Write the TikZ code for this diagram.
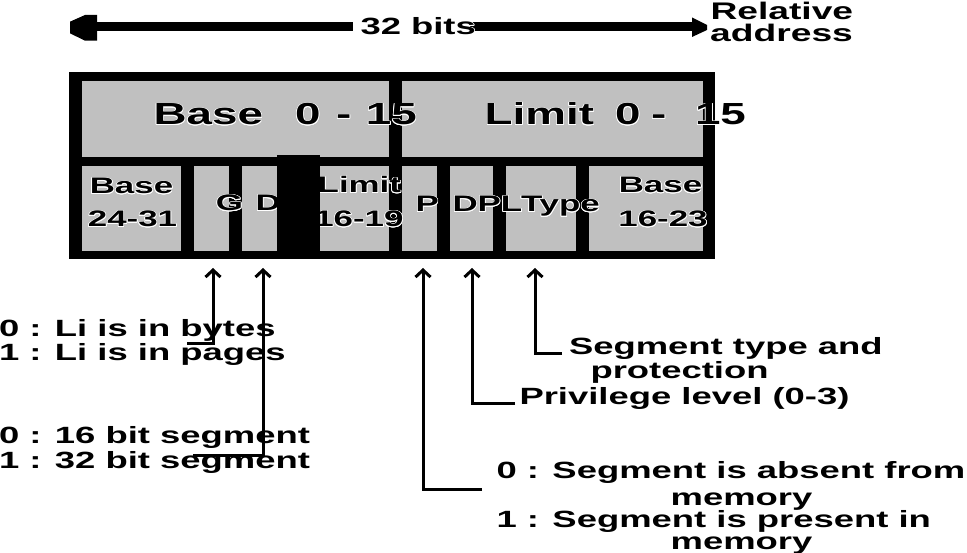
\documentclass[tikz,border=0pt]{standalone}
\usepackage{fontspec}
\setmainfont{Liberation Sans}[FakeStretch=1.55]
\newfontfamily\olbig{Liberation Sans}[FakeStretch=1.5]
\usepackage[copies]{contour}
\contourlength{0.7pt}
\contournumber{16}
\newcommand\wt[1]{\contour{white}{#1}}
\usetikzlibrary{arrows.meta,backgrounds}
\definecolor{cellgray}{RGB}{192,192,192}
\tikzset{
  cell/.style={fill=cellgray, draw=none, inner sep=0pt, outer sep=0pt},
  blk/.style={fill=black, draw=none, inner sep=0pt, outer sep=0pt},
  txt/.style={inner sep=0pt, outer sep=0pt, text=black},
  big/.style={txt, font=\olbig\bfseries\fontsize{30.5}{30.5}\selectfont},
  celltxt/.style={txt, font=\bfseries\fontsize{22.5}{22.5}\selectfont},
  lbl/.style={txt, font=\bfseries\fontsize{23.5}{23.5}\selectfont},
  toptxt/.style={txt, font=\bfseries\fontsize{23.5}{23.5}\selectfont},
  reltxt/.style={txt, font=\bfseries\fontsize{24}{24}\selectfont},
  conn/.style={line width=3pt, line join=miter, -{Straight Barb[length=7pt,width=15pt]}},
  bar/.style={line width=9pt}
}
\begin{document}
\begin{tikzpicture}[x=1pt,y=-1pt]
\useasboundingbox (0,0) rectangle (967,553);

% ---- top arrow ----
\node[toptxt, anchor=base west] (bits) at (360.5,35) {\wt{32 bits}};
\node[reltxt, anchor=base west] (rel) at (710.5,20) {Relative};
\node[reltxt, anchor=base west] (addr) at (710.2,42) {address};
\coordinate (lh) at (96,27);
\coordinate (rh) at (694,27);
\fill (70,21.7) -- (85,15) -- (97,15) -- (97,40.7) -- (85,40.7) -- (70,33.3) -- cycle;
\fill (692,17.5) -- (707,25) -- (707,30) -- (692,37) -- cycle;
\begin{pgfonlayer}{background}
\draw[bar] (lh) -- ([xshift=-8pt]bits.west |- lh);
\draw[bar] ([xshift=-6pt]bits.east |- rh) -- (rh);
\end{pgfonlayer}

% ---- descriptor frame ----
\node[blk, minimum width=646pt, minimum height=187pt] (frame) at (392,165.5) {};
\node[cell, minimum width=307pt, minimum height=76pt] (baseTop) at (235.5,119) {};
\node[cell, minimum width=301pt, minimum height=76pt] (limTop) at (552.5,119) {};
\node[cell, minimum width=99pt, minimum height=85pt] (b2431) at (131.5,208.5) {};
\node[cell, minimum width=35pt, minimum height=85pt] (G) at (211.5,208.5) {};
\node[cell, minimum width=35pt, minimum height=85pt] (D) at (259.5,208.5) {};
\node[cell, minimum width=69pt, minimum height=85pt] (l1619) at (354.5,208.5) {};
\node[cell, minimum width=35pt, minimum height=85pt] (P) at (419.5,208.5) {};
\node[cell, minimum width=43pt, minimum height=85pt] (DPL) at (471.5,208.5) {};
\node[cell, minimum width=70pt, minimum height=85pt] (Type) at (541,208.5) {};
\node[cell, minimum width=114pt, minimum height=85pt] (b1623) at (646,208.5) {};

% ---- cell texts ----
\node[big, anchor=base west] (tBase) at (153.6,125)
  {\wt{Base\hspace{32.3pt}0\hspace{15.6pt}-\hspace{14.4pt}15}};
\node[big, anchor=base west] (tLim) at (484.7,125)
  {\wt{Limit\hspace{21.2pt}0\hspace{10.6pt}-\hspace{28.6pt}15}};
\node[celltxt, anchor=base] (tB1) at (131.5,194) {\wt{Base}};
\node[celltxt, anchor=base] (tB2) at (132.5,227) {\wt{24-31}};
\node[celltxt, anchor=base] (tG) at (229.5,211) {\wt{G}};
\node[celltxt, anchor=base west] (tD) at (255.5,211) {\wt{D}};
\node[celltxt, anchor=base east] (tL1) at (401,193) {\wt{Limit}};
\node[celltxt, anchor=base east] (tL2) at (403.5,227) {\wt{16-19}};
\node[celltxt, anchor=base west] (tP) at (415.5,212) {\wt{P}};
\node[celltxt, anchor=base west] (tDPL) at (452.5,212) {\wt{DPL}};
\node[celltxt, anchor=base west] (tType) at (521,212) {\wt{Type}};
\node[celltxt, anchor=base] (tB3) at (660.5,193) {\wt{Base}};
\node[celltxt, anchor=base] (tB4) at (663,227) {\wt{16-23}};

\node[blk, minimum width=43pt, minimum height=95.5pt] (block) at (298.5,203.25) {};

% ---- labels ----
\node[lbl, anchor=base west] (gA) at (-1,337) {0 : Li is in bytes};
\node[lbl, anchor=base west] (gB) at (-1,361) {1 : Li is in pages};
\node[lbl, anchor=base west] (dA) at (-1,443) {0 : 16 bit segment};
\node[lbl, anchor=base west] (dB) at (-1,468) {1 : 32 bit segment};
\node[lbl, anchor=base west] (tyA) at (569,355) {Segment type and};
\node[lbl, anchor=base west] (tyB) at (590.5,378) {protection};
\node[lbl, anchor=base west] (pl) at (519.5,404) {Privilege level (0-3)};
\node[lbl, anchor=base west] (pA) at (496.5,478) {0 : Segment is absent from};
\node[lbl, anchor=base west] (pB) at (670.7,505) {memory};
\node[lbl, anchor=base west] (pC) at (496.5,527) {1 : Segment is present in};
\node[lbl, anchor=base west] (pD) at (670.7,549) {memory};

% ---- connectors ----
\coordinate (gTip) at (213,268);   \coordinate (gEnd) at (187,344);
\coordinate (dTip) at (263,268);   \coordinate (dEnd) at (193,455);
\coordinate (pTip) at (423,268);   \coordinate (pEnd) at (482,489);
\coordinate (dplTip) at (472,268); \coordinate (dplEnd) at (515,403);
\coordinate (tyTip) at (535,268);  \coordinate (tyEnd) at (562,354);
\draw[conn] (gEnd) -| (gTip);
\draw[conn] (dEnd) -| (dTip);
\draw[conn] (pEnd) -| (pTip);
\draw[conn] (dplEnd) -| (dplTip);
\draw[conn] (tyEnd) -| (tyTip);
\end{tikzpicture}
\end{document}
